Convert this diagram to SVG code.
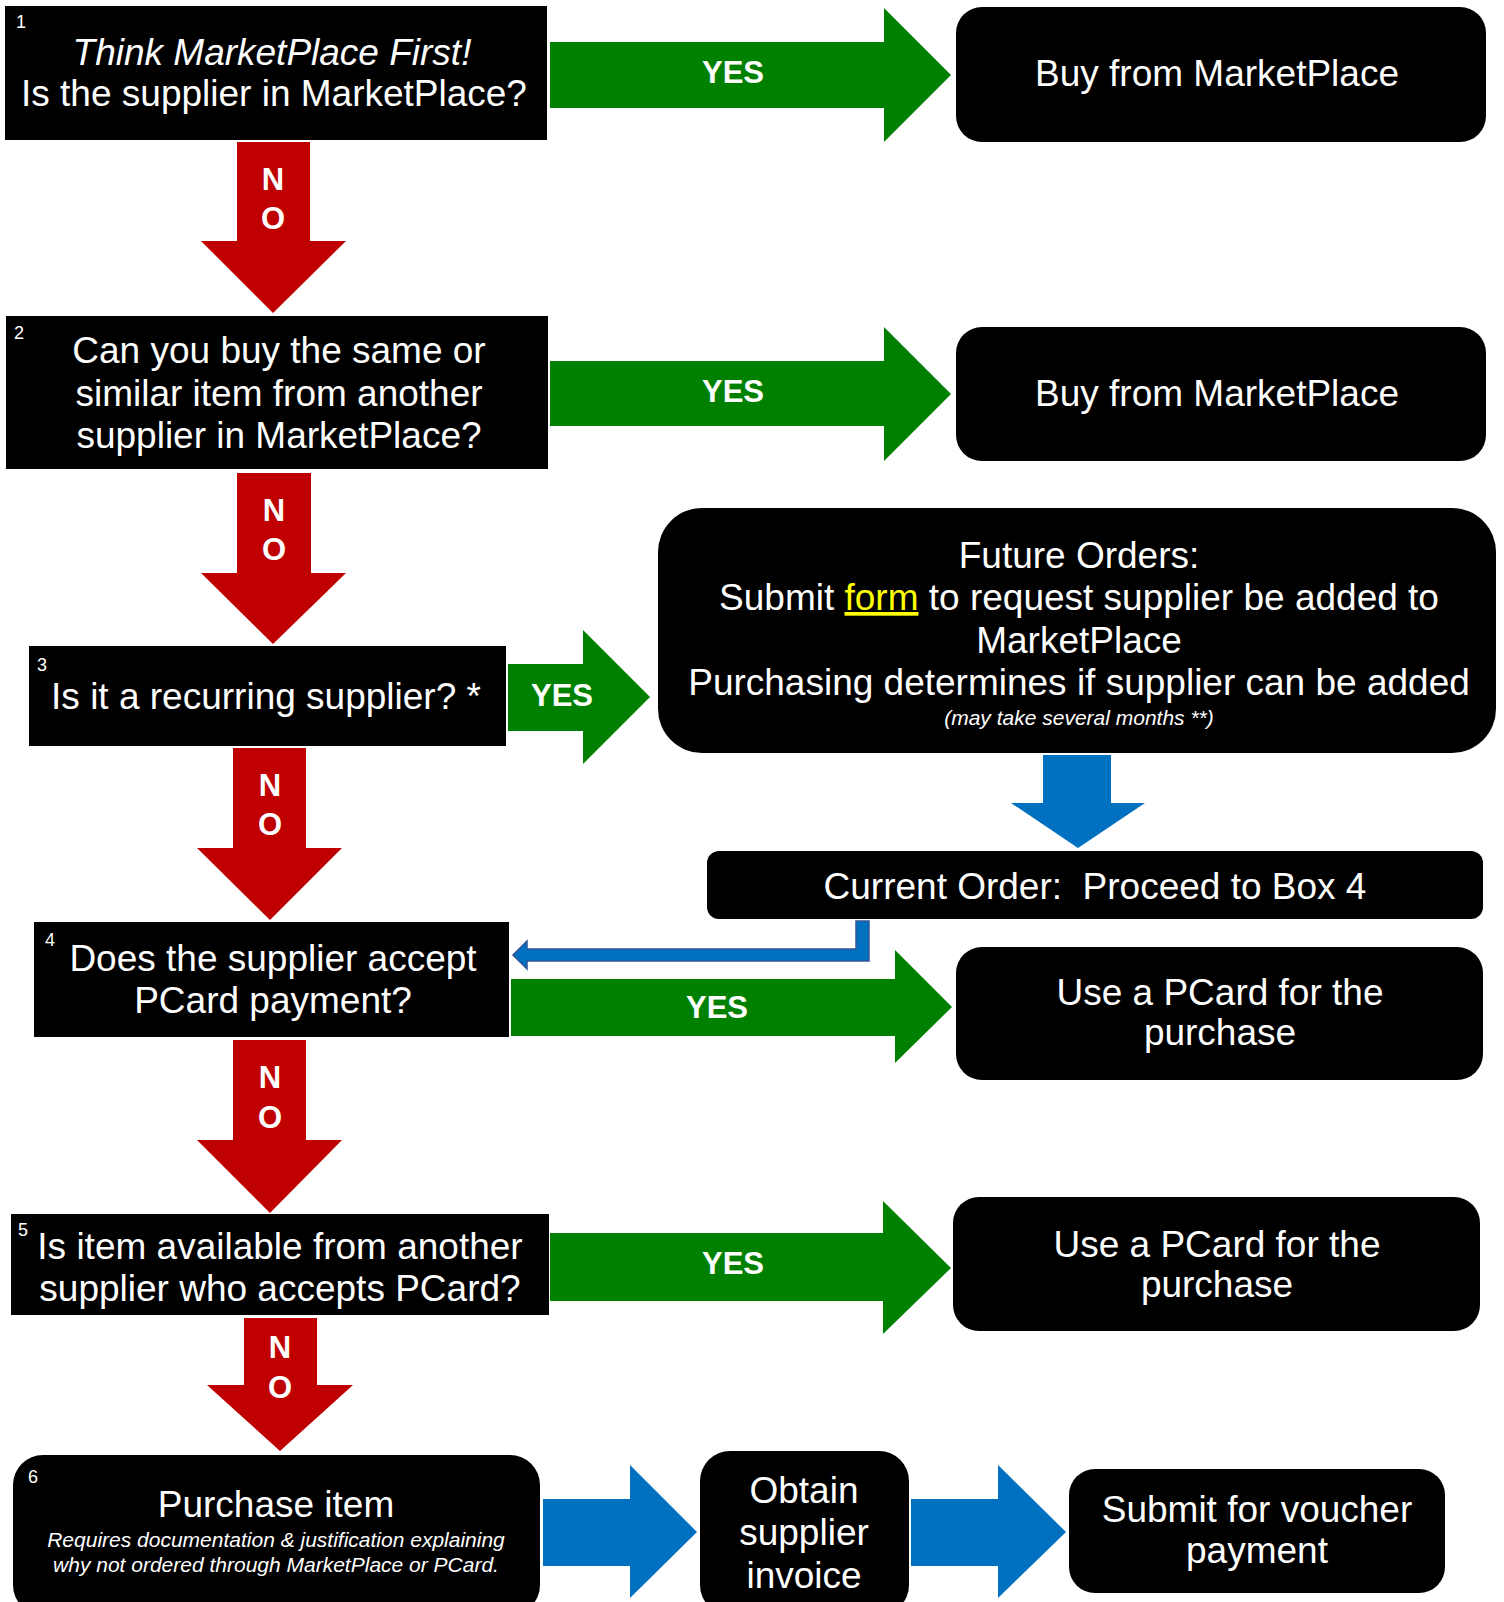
<svg xmlns="http://www.w3.org/2000/svg" width="1504" height="1602" viewBox="0 0 1504 1602">
<style>
text{font-family:"Liberation Sans",Arial,sans-serif;fill:#fff}
.m{font-size:37px;text-anchor:middle}
.n{font-size:18px}
.s{font-size:21px;font-style:italic;text-anchor:middle}
.lb{font-size:31px;font-weight:bold;text-anchor:middle}
.box{fill:#000}
.g{fill:#008000}
.r{fill:#C00000}
.b{fill:#0070C0}
</style>
<rect width="1504" height="1602" fill="#fff"/>
<g id="connectors">
  <g id="yes1"><polygon class="g" points="550,42 884,42 884,8 951,75 884,142 884,108 550,108"/><text class="lb" x="733" y="83">YES</text></g>
  <g id="yes2"><polygon class="g" points="550,361 884,361 884,327 951,394 884,461 884,426 550,426"/><text class="lb" x="733" y="402">YES</text></g>
  <g id="yes3"><polygon class="g" points="508,664 583,664 583,630 650,697 583,764 583,731 508,731"/><text class="lb" x="562" y="706">YES</text></g>
  <g id="yes4"><polygon class="g" points="511,979 895,979 895,950 952,1007 895,1063 895,1036 511,1036"/><text class="lb" x="717" y="1018">YES</text></g>
  <g id="yes5"><polygon class="g" points="550,1233 883,1233 883,1201 951,1268 883,1334 883,1301 550,1301"/><text class="lb" x="733" y="1274">YES</text></g>
  <g id="no1"><polygon class="r" points="237,142 310,142 310,241 346,241 273,313 201,241 237,241"/><text class="lb" x="273" y="190">N</text><text class="lb" x="273" y="229">O</text></g>
  <g id="no2"><polygon class="r" points="237,473 311,473 311,573 346,573 273,644 201,573 237,573"/><text class="lb" x="274" y="521">N</text><text class="lb" x="274" y="560">O</text></g>
  <g id="no3"><polygon class="r" points="233,748 306,748 306,848 342,848 270,920 197,848 233,848"/><text class="lb" x="270" y="796">N</text><text class="lb" x="270" y="835">O</text></g>
  <g id="no4"><polygon class="r" points="233,1040 306,1040 306,1140 342,1140 270,1213 197,1140 233,1140"/><text class="lb" x="270" y="1088">N</text><text class="lb" x="270" y="1128">O</text></g>
  <g id="no5"><polygon class="r" points="244,1318 317,1318 317,1385 353,1385 280,1451 207,1385 244,1385"/><text class="lb" x="280" y="1358">N</text><text class="lb" x="280" y="1398">O</text></g>
  <polygon id="down-blue" class="b" points="1043,755 1111,755 1111,803 1145,803 1078,848 1011,803 1043,803"/>
  <polygon id="elbow-blue" class="b" stroke="#2F5597" stroke-width="1.5" points="856,921 869,921 869,961 527,961 527,969 513,955 527,941 527,949 856,949"/>
  <polygon id="right-blue1" class="b" points="543,1499 630,1499 630,1465 697,1532 630,1598 630,1566 543,1566"/>
  <polygon id="right-blue2" class="b" points="911,1499 998,1499 998,1465 1066,1532 998,1598 998,1566 911,1566"/>
</g>
<g id="box1">
  <rect class="box" x="5" y="6" width="542" height="134"/>
  <text class="n" x="16" y="28">1</text>
  <text class="m" x="272" y="65" font-style="italic">Think MarketPlace First!</text>
  <text class="m" x="274" y="106" font-size="37.4">Is the supplier in MarketPlace?</text>
</g>
<g id="buy1">
  <rect class="box" x="956" y="7" width="530" height="135" rx="26"/>
  <text class="m" x="1217" y="86">Buy from MarketPlace</text>
</g>
<g id="box2">
  <rect class="box" x="6" y="316" width="542" height="153"/>
  <text class="n" x="14" y="339">2</text>
  <text class="m" x="279" y="363">Can you buy the same or</text>
  <text class="m" x="279" y="406">similar item from another</text>
  <text class="m" x="279" y="448">supplier in MarketPlace?</text>
</g>
<g id="buy2">
  <rect class="box" x="956" y="327" width="530" height="134" rx="26"/>
  <text class="m" x="1217" y="406">Buy from MarketPlace</text>
</g>
<g id="box3">
  <rect class="box" x="29" y="646" width="477" height="100"/>
  <text class="n" x="37" y="671">3</text>
  <text class="m" x="266" y="709">Is it a recurring supplier? *</text>
</g>
<g id="future">
  <rect class="box" x="658" y="508" width="838" height="245" rx="44"/>
  <text class="m" x="1079" y="568">Future Orders:</text>
  <text class="m" x="1079" y="610">Submit <tspan fill="#FFFF00" text-decoration="underline">form</tspan> to request supplier be added to</text>
  <text class="m" x="1079" y="653">MarketPlace</text>
  <text class="m" x="1079" y="695">Purchasing determines if supplier can be added</text>
  <text class="s" x="1079" y="725">(may take several months **)</text>
</g>
<g id="current">
  <rect class="box" x="707" y="851" width="776" height="68" rx="12"/>
  <text class="m" x="1095" y="899" xml:space="preserve">Current Order:  Proceed to Box 4</text>
</g>
<g id="box4">
  <rect class="box" x="34" y="922" width="475" height="115"/>
  <text class="n" x="45" y="946">4</text>
  <text class="m" x="273" y="971">Does the supplier accept</text>
  <text class="m" x="273" y="1013">PCard payment?</text>
</g>
<g id="pcard1">
  <rect class="box" x="956" y="947" width="527" height="133" rx="26"/>
  <text class="m" x="1220" y="1005">Use a PCard for the</text>
  <text class="m" x="1220" y="1045">purchase</text>
</g>
<g id="box5">
  <rect class="box" x="11" y="1214" width="538" height="101"/>
  <text class="n" x="18" y="1236">5</text>
  <text class="m" x="280" y="1259">Is item available from another</text>
  <text class="m" x="280" y="1301">supplier who accepts PCard?</text>
</g>
<g id="pcard2">
  <rect class="box" x="953" y="1197" width="527" height="134" rx="26"/>
  <text class="m" x="1217" y="1257">Use a PCard for the</text>
  <text class="m" x="1217" y="1297">purchase</text>
</g>
<g id="box6">
  <rect class="box" x="13" y="1455" width="527" height="160" rx="30"/>
  <text class="n" x="28" y="1483">6</text>
  <text class="m" x="276" y="1517">Purchase item</text>
  <text class="s" x="276" y="1547">Requires documentation &amp; justification explaining</text>
  <text class="s" x="276" y="1572">why not ordered through MarketPlace or PCard.</text>
</g>
<g id="obtain">
  <rect class="box" x="700" y="1451" width="209" height="164" rx="30"/>
  <text class="m" x="804" y="1503">Obtain</text>
  <text class="m" x="804" y="1545">supplier</text>
  <text class="m" x="804" y="1588">invoice</text>
</g>
<g id="submit">
  <rect class="box" x="1069" y="1469" width="376" height="124" rx="26"/>
  <text class="m" x="1257" y="1522">Submit for voucher</text>
  <text class="m" x="1257" y="1563">payment</text>
</g>
</svg>
